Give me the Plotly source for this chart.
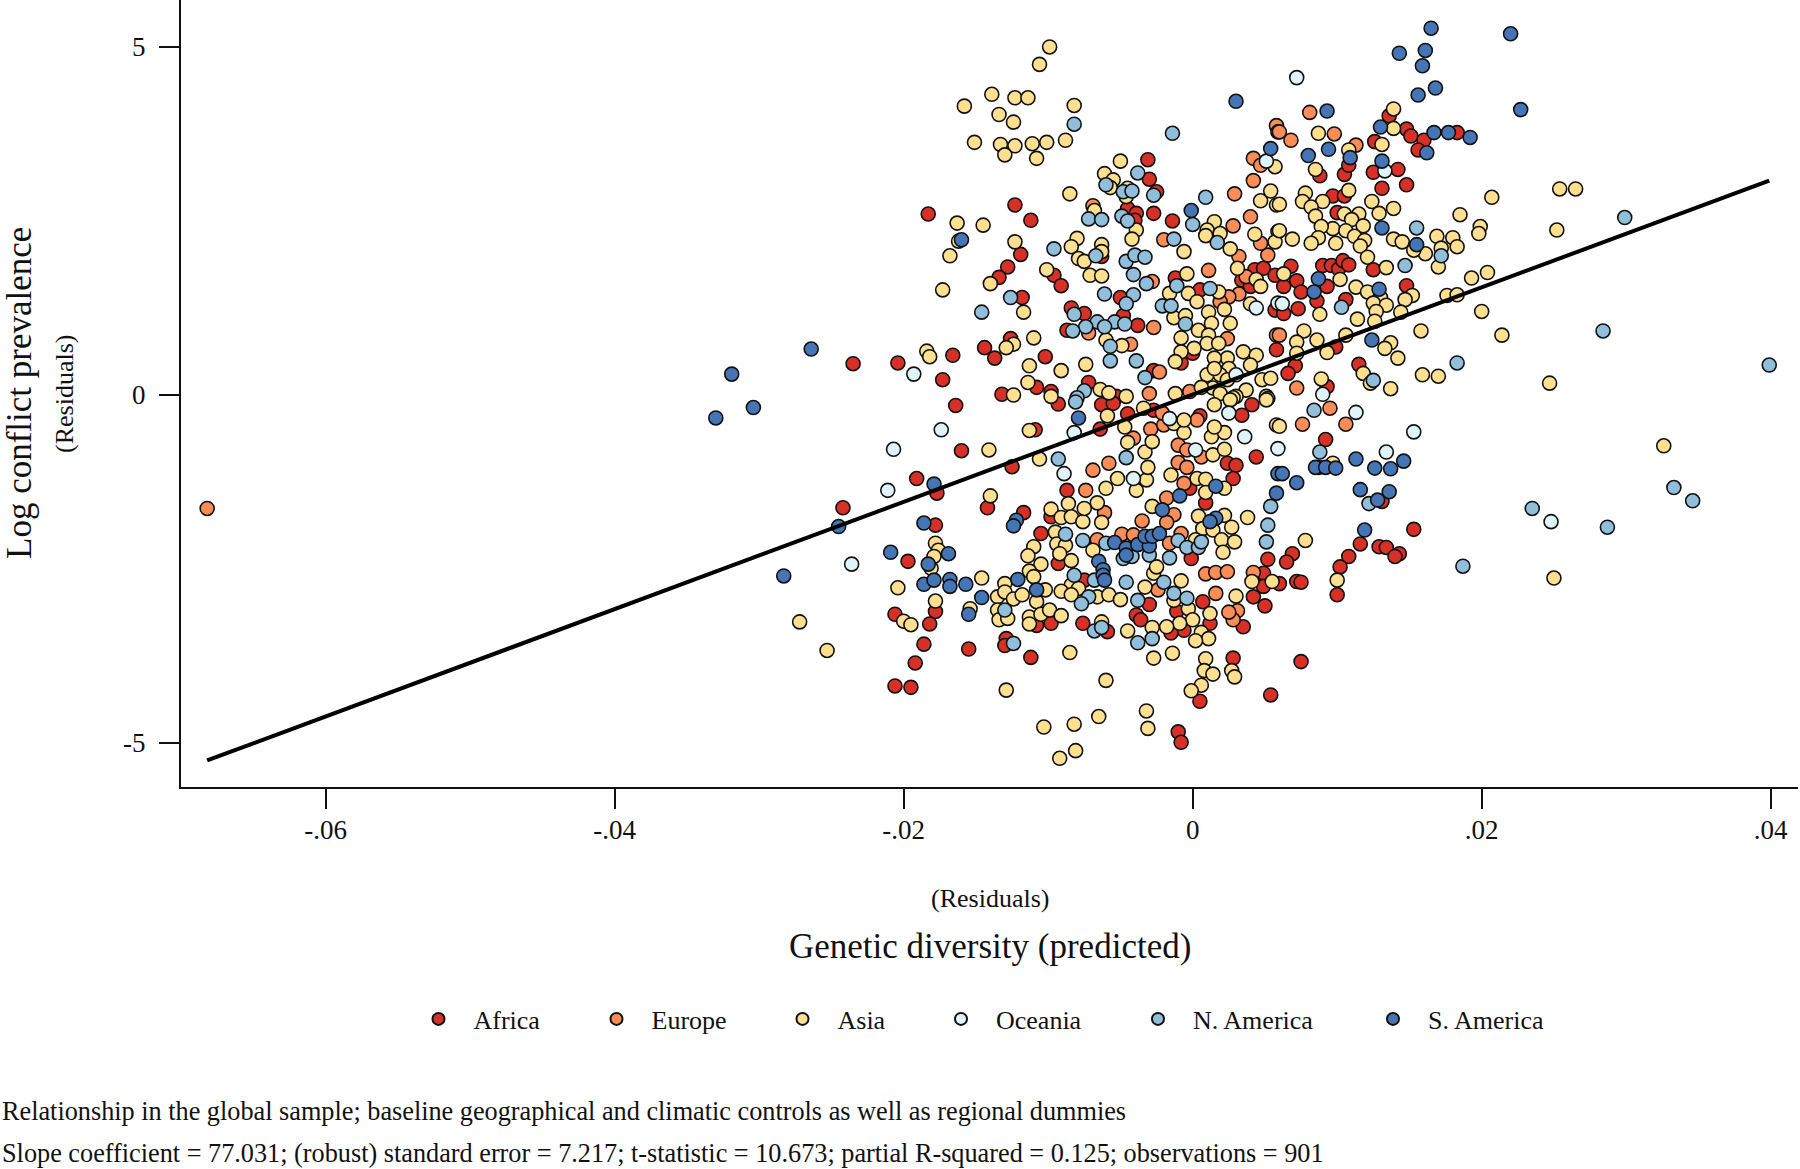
import plotly.graph_objects as go

# values: (genetic diversity residual, log conflict residual)
africa = [
    (-.0183,2.60),(-.0123,2.73),(-.0112,2.51),(-.0031,3.38),(-.0030,3.10),(-.0025,2.92),(-.0027,2.61),(-.0014,2.50),
    (-.0045,2.68),(-.0039,2.61),(-.0040,2.51),(-.0119,2.02),(-.0128,1.84),(-.0134,1.69),(-.0096,1.72),(-.0091,1.57),
    (-.0118,1.40),(-.0084,1.25),(-.0075,1.17),(-.0050,1.40),(-.0048,1.14),(-.0038,1.00),(-.0087,.93),(-.0126,.81),
    (-.0144,.68),(-.0137,.53),(-.0102,.55),(-.0166,.57),(-.0204,.46),(-.0235,.45),(-.0173,.22),(-.0132,.01),
    (-.0108,.11),(-.0098,.05),(-.0072,.18),(-.0053,-.02),(-.0063,1.99),(-.0027,.35),(-.0008,.46),(0,.60),
    (-.0012,1.68),(.0043,1.80),(.0049,1.82),(.0057,1.72),(.0034,1.65),(.0040,1.56),(.0058,.65),(.0057,1.22),(.0005,1.51),
    (.0136,4.01),(.0148,3.82),(.0151,3.72),(.0126,3.64),(.0160,3.66),(.0156,3.52),(.0183,3.77),(.0125,3.20),
    (.0142,3.24),(.0105,3.17),(.0108,3.30),(.0088,3.15),(.0148,3.02),(.0131,2.97),(.0097,2.86),(.0105,2.86),
    (.0100,2.62),(.0068,1.85),(.0090,1.86),(.0096,1.86),(.0101,1.81),(.0104,1.93),(.0108,1.87),(.0125,1.80),
    (.0072,1.64),(.0063,1.56),(.0075,1.48),(.0093,1.56),(.0086,1.35),(.0148,1.57),(.0106,1.37),(.0073,1.24),
    (.0063,1.17),(.0099,.69),(.0071,.42),(.0066,.31),(.0115,.44),(.0093,.12),
    (-.0164,-.15),(-.0109,-.50),(-.0064,-.49),(-.0160,-.80),(-.0125,-1.03),(-.0191,-1.20),(-.0177,-1.41),(-.0087,-1.37),
    (-.0142,-1.62),(-.0242,-1.62),(-.0117,-1.69),(-.0098,-1.75),(-.0105,-1.99),(-.0178,-1.87),(-.0197,-2.39),(-.0093,-2.42),
    (-.0075,-2.66),(-.0002,-1.34),(.0009,-1.55),(.0024,-.98),(.0030,-1.01),(.0028,-1.20),(.0044,-.89),(.0034,-.29),
    (.0041,-.14),(.0005,-.30),(-.0045,-.27),(-.0027,-.22),(-.0063,-.14),(-.0055,-.12),(-.0093,-.13),(-.0001,-2.35),
    (.0052,-2.36),(.0049,-2.56),(.0049,-2.75),(.0042,-2.90),(.0050,-3.03),(.0035,-3.33),(-.0030,-3.01),(-.0039,-3.16),
    (-.0036,-3.23),(-.0011,-3.11),(.0007,-2.97),(.0012,-3.28),(-.0006,-3.38),(-.0015,-3.42),(-.0059,-3.40),(-.0076,-3.28),
    (-.0098,-3.28),(-.0108,-3.31),(-.0178,-3.11),(-.0206,-3.15),(-.0182,-3.29),(-.0186,-3.58),(-.0155,-3.65),(-.0129,-3.50),
    (-.0130,-3.60),(-.0192,-3.85),(-.0206,-4.18),(-.0195,-4.20),(-.0112,-3.77),(.0028,-3.78),(.0054,-4.31),(.0005,-4.40),
    (-.0010,-4.84),(-.0008,-4.99),
    (.0092,-.64),(.0153,-1.93),(.0116,-2.14),(.0129,-2.18),(.0134,-2.19),(.0143,-2.28),(.0140,-2.32),(.0108,-2.32),
    (.0102,-2.47),(.0100,-2.87),(.0069,-2.28),(.0065,-2.40),(.0072,-2.68),(.0075,-2.69),(.0060,-2.71),(.0075,-3.83),(.0131,-1.53),
]
europe = [
    (-.0682,-1.63),(-.0069,2.72),(-.0072,.89),(-.0043,.73),(-.0028,1.63),(-.0027,.97),(-.0020,2.23),(.0011,1.79),
    (.0028,2.43),(.0040,2.56),(.0029,2.89),(.0042,3.08),(.0042,3.40),(.0047,3.30),(.0058,3.87),(.0059,3.78),
    (.0052,2.01),(.0047,2.18),(.0032,1.99),(.0037,1.70),(.0032,1.45),(.0025,1.41),(.0024,.81),(.0058,.86),
    (-.0023,.33),(-.0030,.02),(-.0002,.05),(.0019,1.34),(.0081,4.06),(.0060,3.78),(.0068,3.66),(.0098,3.75),
    (.0113,3.59),(.0072,.10),(.0060,.86),(-.0069,-1.08),(-.0058,-.98),(-.0074,-1.37),(-.0061,-1.69),(-.0029,-.49),
    (-.0041,-.62),(-.0020,-.43),(.0003,-.36),(-.0010,-.72),(-.0004,-.79),(.0006,-.89),(-.0010,-.97),(-.0004,-1.04),
    (-.0006,-1.27),(-.0018,-1.48),(-.0013,-1.72),(-.0018,-1.83),(-.0035,-1.81),(-.0049,-2.00),(-.0066,-2.08),(-.0041,-2.01),
    (-.0008,-1.99),(-.0016,-2.13),(-.0024,-2.80),(.0009,-2.57),(.0016,-2.55),(.0024,-2.54),(.0016,-2.85),(.0042,-2.55),
    (.0031,-3.10),(.0028,-3.23),(.0025,-3.12),(-.0021,-.26),(.0095,-.19),(.0076,-.42),(.0106,-.42),
]
asia = [
    (-.0099,5.00),(-.0106,4.75),(-.0139,4.32),(-.0123,4.27),(-.0114,4.27),(-.0158,4.15),(-.0082,4.16),(-.0134,4.03),
    (-.0124,3.92),(-.0151,3.63),(-.0133,3.60),(-.0123,3.58),(-.0111,3.61),(-.0101,3.63),(-.0088,3.66),(-.0130,3.45),
    (-.0108,3.40),(-.0050,3.36),(-.0061,3.18),(-.0055,3.09),(-.0085,2.89),(-.0045,2.97),(-.0057,2.98),(-.0046,2.85),
    (-.0068,2.65),(-.0039,2.37),(-.0042,2.24),(-.0163,2.47),(-.0145,2.44),(-.0162,2.21),(-.0168,2.00),(-.0123,2.20),
    (-.0080,2.25),(-.0084,2.13),(-.0063,2.16),(-.0063,2.06),(-.0079,1.96),(-.0075,1.92),(-.0071,1.72),(-.0063,1.71),
    (-.0101,1.80),(-.0140,1.60),(-.0173,1.51),(-.0117,1.19),(.0015,2.49),(.0010,2.37),(.0019,2.32),(.0009,2.29),
    (-.0006,2.06),(.0026,2.10),(.0031,1.82),(-.0004,1.74),(-.0016,1.46),(-.0003,1.46),(.0003,1.34),(.0018,1.48),
    (.0022,1.23),(.0011,1.19),(-.0013,1.11),(-.0005,1.14),(.0013,1.03),(.0026,1.03),(.0004,.93),(-.0008,.82),
    (.0011,.86),(.0010,.74),(.0018,.74),(.0001,.67),(-.0008,.62),(-.0012,.48),(-.0110,.82),(-.0124,.73),
    (-.0129,.68),(-.0184,.63),(-.0182,.55),(-.0113,.42),(-.0091,.35),(-.0074,.44),(-.0114,.18),(-.0060,.79),
    (-.0049,.71),(-.0064,.08),(-.0058,.03),(-.0046,-.02),(-.0098,-.02),(-.0124,0),(.0043,2.31),(.0047,2.79),
    (.0054,2.93),(.0058,2.73),(.0057,3.28),(.0059,2.35),(.0057,2.20),(.0040,1.31),(.0044,1.66),(.0047,1.56),
    (.0035,.62),(.0044,.57),(.0024,.53),(.0015,.53),(.0025,.38),(.0040,.43),(.0010,.29),(.0019,.29),
    (.0015,.38),(.0024,.22),(.0048,.22),(.0054,.24),(.0014,.10),(.0037,.07),(.0051,-.02),(-.0012,.02),
    (.0019,.02),(.0030,-.02),(.0028,-.04),(.0052,-.05),(.0015,-.14),(.0006,.11),
    (.0139,4.11),(.0139,3.83),(.0087,3.76),(.0108,3.52),(.0131,3.60),(.0085,3.24),(.0108,2.94),(.0078,2.90),
    (.0076,2.78),(.0090,2.78),(.0082,2.70),(.0085,2.57),(.0124,2.78),(.0139,2.68),(.0060,2.74),(.0129,2.61),
    (.0105,2.60),(.0115,2.60),(.0110,2.52),(.0118,2.43),(.0097,2.39),(.0106,2.36),(.0089,2.42),(.0087,2.26),
    (.0082,2.18),(.0069,2.24),(.0060,2.36),(.0099,2.18),(.0112,2.28),(.0119,2.22),(.0116,2.14),(.0139,2.24),
    (.0145,2.20),(.0169,2.28),(.0180,2.26),(.0183,2.13),(.0172,2.11),(.0161,2.03),(.0153,2.08),(.0121,1.98),
    (.0134,1.83),(.0170,1.84),(.0063,1.74),(.0102,1.66),(.0113,1.55),(.0121,1.48),(.0199,2.42),(.0198,2.32),
    (.0207,2.84),(.0185,2.59),(.0254,2.96),(.0265,2.96),(.0252,2.37),(.0204,1.76),(.0193,1.68),(.0176,1.43),
    (.0183,1.44),(.0152,1.43),(.0147,1.37),(.0130,1.40),(.0125,1.32),(.0134,1.29),(.0127,1.20),(.0144,1.19),
    (.0088,1.16),(.0114,1.09),(.0126,1.06),(.0200,1.20),(.0158,.92),(.0077,.92),(.0106,.86),(.0086,.79),
    (.0072,.76),(.0072,.60),(.0137,.75),(.0133,.67),(.0093,.61),(.0142,.53),(.0214,.86),(.0118,.31),
    (.0089,.23),(.0159,.29),(.0170,.27),(.0137,.09),(.0247,.17),(.0123,.17),
    (-.0113,-.51),(-.0141,-.79),(-.0106,-.92),(-.0140,-1.45),(-.0098,-1.64),(-.0086,-1.56),(-.0091,-1.76),(-.0084,-1.75),
    (-.0076,-1.82),(-.0075,-1.63),(-.0066,-1.55),(-.0063,-1.83),(-.0095,-1.97),(-.0094,-2.14),(-.0088,-2.16),(-.0092,-2.28),
    (-.0084,-2.38),(-.0069,-2.23),(-.0060,-1.34),(-.0052,-1.20),(-.0039,-1.37),(-.0032,-1.22),(-.0031,-1.04),(-.0033,-.82),
    (-.0028,-.67),(-.0045,-.68),(-.0047,-.46),(-.0059,-.30),(-.0034,-.19),(-.0013,-.41),(-.0006,-.54),(-.0006,-.36),
    (-.0015,-1.15),(.0003,-1.20),(.0009,-1.21),(.0009,-1.40),(.0022,-1.34),(.0014,-.86),(.0022,-.78),(.0013,-.60),
    (.0022,-.54),(.0015,-.46),(-.0028,-1.60),(.0004,-1.74),(.0022,-1.73),(.0038,-1.76),(.0007,-1.92),(.0014,-1.94),
    (.0027,-1.90),(.0020,-2.08),(.0029,-2.11),(.0021,-2.26),(.0002,-2.08),(-.0110,-2.18),(-.0114,-2.31),(-.0105,-2.43),
    (-.0113,-2.53),(-.0110,-2.61),(-.0178,-2.13),(-.0176,-2.23),(-.0179,-2.32),(-.0181,-2.49),(-.0204,-2.77),(-.0178,-2.96),
    (-.0146,-2.63),(-.0130,-2.71),(-.0135,-2.90),(-.0130,-2.83),(-.0124,-2.93),(-.0118,-2.87),(-.0108,-2.97),(-.0102,-2.80),
    (-.0135,-3.09),(-.0154,-3.07),(-.0134,-3.23),(-.0128,-3.21),(-.0113,-3.19),(-.0113,-3.29),(-.0105,-3.15),(-.0099,-3.09),
    (-.0091,-3.17),(-.0200,-3.25),(-.0195,-3.30),(-.0272,-3.26),(-.0253,-3.67),(-.0084,-2.73),(-.0091,-2.82),(-.0079,-2.78),
    (-.0066,-2.90),(-.0058,-2.87),(-.0050,-2.94),(-.0084,-2.87),(-.0027,-2.56),(-.0025,-2.47),(-.0033,-2.76),(-.0008,-2.67),
    (-.0013,-2.95),(-.0003,-3.07),(.0012,-3.14),(0,-3.23),(-.0009,-3.28),(-.0018,-3.33),(-.0028,-3.34),(-.0045,-3.39),
    (-.0063,-3.26),(.0006,-3.41),(.0011,-3.50),(.0002,-3.53),(.0030,-2.89),(.0041,-2.68),(.0055,-2.68),(-.0085,-3.70),
    (-.0060,-4.10),(-.0027,-3.78),(-.0014,-3.71),(.0009,-3.79),(.0008,-3.96),(.0014,-4.01),(.0006,-4.17),(-.0001,-4.25),
    (.0027,-3.96),(.0029,-4.05),(-.0129,-4.24),(-.0103,-4.77),(-.0082,-4.73),(-.0065,-4.62),(-.0032,-4.54),(-.0031,-4.79),
    (-.0092,-5.22),(-.0081,-5.11),(.0058,-.43),(.0051,-.07),(.0026,-.07),
    (.0060,-.45),(.0097,-.98),(.0326,-.73),(.0250,-2.63),(.0100,-2.66),(.0078,-2.09),
]
oceania = [
    (-.0193,.30),(.0051,3.36),(.0044,1.25),(.0030,.29),(.0059,1.32),(.0072,4.56),(.0133,3.22),(.0062,1.31),(.0090,.01),
    (-.0174,-.50),(-.0207,-.78),(-.0211,-1.37),(-.0236,-2.43),(-.0082,-.54),(-.0089,-1.13),(-.0041,-1.20),(-.0016,-.34),
    (.0002,-.79),(.0025,-.26),(.0036,-.60),(.0059,-.77),(.0113,-.25),(.0153,-.53),(.0134,-.82),(.0248,-1.82),
]
n_america = [
    (-.0082,3.89),(-.0014,3.76),(-.0038,3.19),(-.0060,3.02),(-.0048,2.92),(-.0042,2.93),(-.0027,2.87),(.0009,2.84),
    (-.0072,2.53),(-.0063,2.52),(-.0049,2.57),(-.0045,2.50),(0,2.45),(-.0013,2.24),(.0017,2.19),(-.0096,2.10),
    (-.0067,2.00),(-.0046,1.92),(-.0040,2.01),(-.0033,1.98),(-.0041,1.73),(-.0032,1.60),(-.0011,1.57),(.0012,1.53),
    (-.0126,1.40),(-.0061,1.45),(-.0041,1.44),(-.0046,1.31),(-.0021,1.28),(-.0015,1.28),(-.0146,1.19),(-.0082,1.16),
    (-.0066,1.05),(-.0054,1.05),(-.0047,1.02),(-.0061,.98),(-.0074,.98),(-.0083,.92),(-.0005,1.02),(-.0057,.70),
    (-.0057,.49),(-.0039,.49),(-.0033,.25),(-.0075,.06),(-.0080,-.04),
    (.0155,2.40),(.0172,2.00),(.0147,1.86),(.0299,2.55),(.0284,.92),(.0103,1.26),(.0183,.46),(.0125,.21),(.0399,.43),
    (-.0081,-.10),(-.0093,-.92),(-.0046,-.90),(-.0088,-2.00),(-.0076,-2.09),(-.0060,-2.13),(-.0082,-2.59),(-.0068,-2.66),
    (-.0046,-2.69),(-.0072,-2.90),(-.0077,-3.00),(-.0130,-3.09),(-.0124,-3.57),(-.0068,-3.39),(-.0063,-3.34),(-.0030,-2.30),
    (-.0016,-2.34),(-.0048,-2.35),(-.0042,-2.32),(-.0010,-2.09),(-.0004,-2.19),(.0004,-2.19),(.0006,-2.11),(-.0020,-2.69),
    (-.0013,-2.85),(-.0004,-2.92),(-.0038,-2.95),(-.0038,-3.56),(-.0028,-3.50),(.0052,-1.87),(.0051,-2.11),(.0054,-1.60),
    (.0084,-.22),(.0088,-.82),(.0235,-1.63),(.0333,-1.33),(.0346,-1.52),(.0287,-1.90),(.0187,-2.46),(.0122,-1.56),
]
s_america = [
    (-.0330,-.33),(-.0319,.30),(-.0304,-.18),(.0030,4.22),(.0054,3.54),(-.0001,2.65),(-.0160,2.23),(-.0264,.66),
    (.0165,5.27),(.0220,5.19),(.0143,4.91),(.0161,4.95),(.0159,4.73),(.0168,4.41),(.0156,4.31),(.0227,4.10),
    (.0093,4.08),(.0080,3.44),(.0094,3.53),(.0109,3.41),(.0130,3.85),(.0167,3.77),(.0177,3.77),(.0192,3.70),
    (.0162,3.48),(.0131,3.36),(.0131,2.40),(.0155,2.16),(.0087,1.67),(.0084,1.48),(.0129,1.52),(.0124,.79),
    (-.0079,-.33),(-.0179,-1.28),(-.0245,-1.89),(-.0186,-1.84),(-.0122,-1.80),(-.0124,-1.88),(-.0209,-2.26),(-.0169,-2.28),
    (-.0183,-2.43),(-.0283,-2.60),(-.0186,-2.72),(-.0179,-2.66),(-.0168,-2.65),(-.0168,-2.75),(-.0157,-2.72),(-.0146,-2.91),
    (-.0155,-3.15),(-.0121,-2.65),(-.0108,-2.80),(-.0065,-2.39),(-.0062,-2.51),(-.0062,-2.59),(-.0061,-2.66),(-.0054,-2.12),
    (-.0046,-2.20),(-.0046,-2.30),(-.0038,-2.15),(-.0030,-2.17),(-.0033,-2.03),(-.0028,-2.03),(-.0023,-1.99),(-.0021,-1.65),
    (-.0009,-1.45),(.0016,-1.31),(.0016,-1.77),(.0012,-1.82),(.0058,-1.41),(.0059,-1.13),
    (.0113,-.92),(.0087,-1.04),(.0085,-1.04),(.0092,-1.04),(.0099,-1.05),(.0126,-1.05),(.0137,-1.06),(.0146,-.95),
    (.0062,-1.13),(.0072,-1.26),(.0116,-1.36),(.0136,-1.39),(.0128,-1.51),(.0119,-1.94),
]
region_names = ["Africa", "Europe", "Asia", "Oceania", "N. America", "S. America"]
region_points = [africa, europe, asia, oceania, n_america, s_america]
region_colors = ["#d73027", "#fc8d59", "#fee090", "#e0f3f8", "#91bfdb", "#4575b4"]

fit_x = [-.0682, .0399]
fit_y = [-5.25, 3.08]

x_ticks = [-.06, -.04, -.02, 0, .02, .04]
x_tick_labels = ["-.06", "-.04", "-.02", "0", ".02", ".04"]
y_ticks = [-5, 0, 5]
y_tick_labels = ["-5", "0", "5"]

FONT = "Liberation Serif"
W, H = 1800, 1169
L, R, T, B = 181, 2, 0, 382
# left edge of each legend entry, in page pixels
legend_left = [403.5, 581.5, 767.5, 926, 1123, 1358]

fig = go.Figure()
legends = {}
for i, (name, pts, col) in enumerate(zip(region_names, region_points, region_colors)):
    key = "legend" if i == 0 else f"legend{i + 1}"
    fig.add_trace(go.Scatter(
        x=[p[0] for p in pts], y=[p[1] for p in pts], mode="markers", name=name, legend=key,
        marker=dict(size=14, color=col, line=dict(color="#111111", width=1.6)),
        cliponaxis=False,
    ))
    legends[key] = dict(x=(legend_left[i] - L) / (W - L - R), xanchor="left",
                        y=(H - B - 1019) / (H - B), yanchor="middle",
                        itemwidth=60, itemsizing="constant", font=dict(size=26))
fig.add_trace(go.Scatter(x=fit_x, y=fit_y, mode="lines", showlegend=False,
                         line=dict(color="black", width=4)))


def note(text, px, py, size, angle=0, anchor="center"):
    fig.add_annotation(
        text=text, x=(px - L) / (W - L - R), y=(H - B - py) / (H - B - T),
        xref="paper", yref="paper", showarrow=False, textangle=angle,
        xanchor=anchor, yanchor="middle", font=dict(family=FONT, size=size, color="#111111"),
    )


note("Log conflict prevalence", 19, 393, 35, -90)
note("(Residuals)", 64, 394, 26, -90)
note("(Residuals)", 990, 899, 26)
note("Genetic diversity (predicted)", 990, 946, 35)
note("Relationship in the global sample; baseline geographical and climatic controls as well as regional dummies",
     0, 1111, 26.25, anchor="left")
note("Slope coefficient = 77.031; (robust) standard error = 7.217; t-statistic = 10.673; partial R-squared = 0.125; observations = 901",
     0, 1153, 26.25, anchor="left")

fig.update_layout(
    width=W, height=H, margin=dict(l=L, r=R, t=T, b=B),
    paper_bgcolor="white", plot_bgcolor="white",
    font=dict(family=FONT, size=27, color="#111111"),
    **legends,
)
fig.update_xaxes(range=[-.07001, .04189], tickvals=x_ticks, ticktext=x_tick_labels, showgrid=False,
                 zeroline=False, showline=True, linecolor="#111111", linewidth=2, ticks="outside",
                 ticklen=20, tickwidth=2, tickcolor="#111111", ticklabelstandoff=-2)
fig.update_yaxes(range=[-5.632, 5.675], tickvals=y_ticks, ticktext=y_tick_labels, showgrid=False,
                 zeroline=False, showline=True, linecolor="#111111", linewidth=2, ticks="outside",
                 ticklen=20, tickwidth=2, tickcolor="#111111", ticklabelstandoff=8)

fig.write_html("out.html", config=dict(displayModeBar=False),
               post_script="document.body.style.margin='0'")
